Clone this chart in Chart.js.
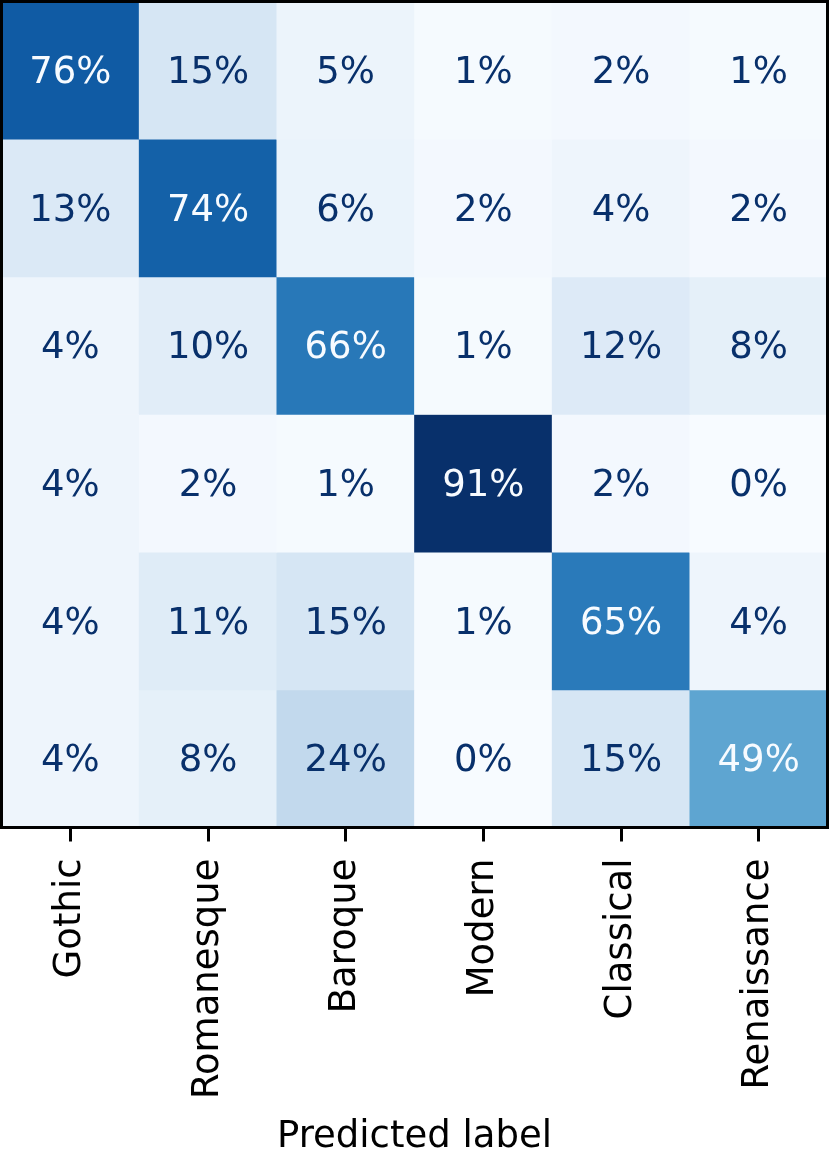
<!DOCTYPE html>
<html>
<head>
<meta charset="utf-8">
<script src="https://cdn.jsdelivr.net/npm/chart.js@4/dist/chart.umd.min.js"></script>
<style>
  html, body { margin: 0; padding: 0; background: #ffffff; }
  #wrap { width: 831px; height: 1149px; position: relative; }
</style>
</head>
<body>
<div id="wrap"><canvas id="c" width="831" height="1149"></canvas></div>
<script>
// Predicted labels (columns) and true labels (rows)
const predictedLabels = ['Gothic', 'Romanesque', 'Baroque', 'Modern', 'Classical', 'Renaissance'];
const trueLabels = ['Gothic', 'Romanesque', 'Baroque', 'Modern', 'Classical', 'Renaissance'];

// Row values (percent), one array per true class
const rowGothic      = [76, 15, 5, 1, 2, 1];
const rowRomanesque  = [13, 74, 6, 2, 4, 2];
const rowBaroque     = [4, 10, 66, 1, 12, 8];
const rowModern      = [4, 2, 1, 91, 2, 0];
const rowClassical   = [4, 11, 15, 1, 65, 4];
const rowRenaissance = [4, 8, 24, 0, 15, 49];

const rows = [rowGothic, rowRomanesque, rowBaroque, rowModern, rowClassical, rowRenaissance];

// Matplotlib "Blues" colormap anchors
const bluesStops = [
  [247,251,255],[222,235,247],[198,219,239],[158,202,225],[107,174,214],
  [66,146,198],[33,113,181],[8,81,156],[8,48,107]
];
function blues(t) {
  t = Math.max(0, Math.min(1, t));
  const p = t * (bluesStops.length - 1);
  const i = Math.min(Math.floor(p), bluesStops.length - 2);
  const f = p - i;
  const a = bluesStops[i], b = bluesStops[i + 1];
  const c = a.map((v, k) => Math.round(v + (b[k] - v) * f));
  return `rgb(${c[0]},${c[1]},${c[2]})`;
}
const allVals = rows.flat();
const vmin = Math.min(...allVals), vmax = Math.max(...allVals);
const norm = v => (v - vmin) / (vmax - vmin);
const thresh = (vmax + vmin) / 2;

const FONT = "'DejaVu Sans', sans-serif";

const datasets = rows.map((row, r) => ({
  label: trueLabels[r],
  data: row.map(() => [r, r + 1]),
  backgroundColor: row.map(v => blues(norm(v))),
  borderWidth: 0,
  barPercentage: 1,
  categoryPercentage: 1,
  grouped: false
}));

const cellText = {
  id: 'cellText',
  afterDatasetsDraw(chart) {
    const ctx = chart.ctx;
    const xs = chart.scales.x, ys = chart.scales.y;
    ctx.save();
    ctx.font = `37px ${FONT}`;
    ctx.textAlign = 'center';
    ctx.textBaseline = 'alphabetic';
    rows.forEach((row, r) => {
      row.forEach((v, c) => {
        ctx.fillStyle = v > thresh ? blues(0) : blues(1);
        ctx.fillText(v + '%', xs.getPixelForValue(c), ys.getPixelForValue(r + 0.5) + 12.5);
      });
    });
    // frame around the plotting area
    const a = chart.chartArea;
    ctx.strokeStyle = '#000';
    ctx.lineWidth = 3;
    ctx.strokeRect(a.left, a.top, a.right - a.left, a.bottom - a.top);
    ctx.restore();
  }
};

new Chart(document.getElementById('c'), {
  type: 'bar',
  data: { labels: predictedLabels, datasets },
  options: {
    responsive: false,
    animation: false,
    events: [],
    layout: { padding: { left: 1.5, right: 3.5, top: 1.5, bottom: 0 } },
    plugins: { legend: { display: false }, tooltip: { enabled: false } },
    scales: {
      x: {
        type: 'category',
        offset: true,
        grid: { display: true, drawOnChartArea: false, drawTicks: true, offset: false,
                tickLength: 14, tickWidth: 3, tickColor: '#000' },
        border: { display: false },
        ticks: { color: '#000', font: { family: FONT, size: 37 }, minRotation: 90, maxRotation: 90, padding: 17, autoSkip: false },
        title: { display: true, text: 'Predicted label', color: '#000', font: { family: FONT, size: 37 }, padding: { top: 0, bottom: -11 } },
        afterFit(scale) { scale.height = 1149 - 827.5; }
      },
      y: {
        type: 'linear', min: 0, max: 6, reverse: true, display: false
      }
    }
  },
  plugins: [cellText]
});
</script>
</body>
</html>
